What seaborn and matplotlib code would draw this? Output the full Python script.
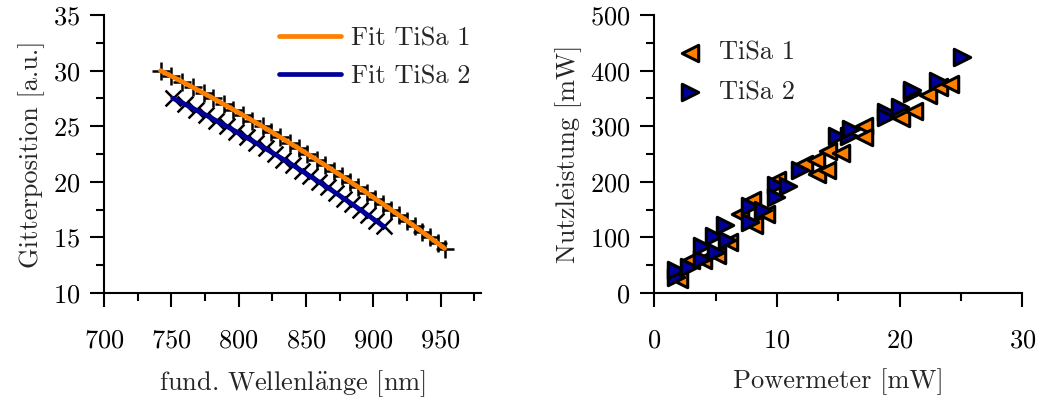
import numpy as np
import pandas as pd
import matplotlib
matplotlib.use("Agg")
import matplotlib.pyplot as plt
from matplotlib.ticker import MultipleLocator
import seaborn as sns

sns.set_style("ticks")
plt.rcParams["font.family"] = ["cmr10", "DejaVu Serif"]
plt.rcParams["mathtext.fontset"] = "cm"
plt.rcParams["axes.formatter.use_mathtext"] = True
plt.rcParams["axes.unicode_minus"] = False
plt.rcParams["font.size"] = 19

ORANGE = "#ff8000"
BLUE = "#000099"

# Gitterposition vs. Wellenlaenge
wl_tisa1 = [742, 750, 758, 766, 774, 781, 789, 796, 803, 810, 818, 824, 831,
            838, 845, 851, 858, 864, 871, 877, 883, 889, 895, 901, 907, 913,
            919, 925, 931, 936, 942, 948, 953]
pos_tisa1 = [30.0, 29.5, 29.0, 28.5, 28.0, 27.5, 27.0, 26.5, 26.0, 25.5, 25.0,
             24.5, 24.0, 23.5, 23.0, 22.5, 22.0, 21.5, 21.0, 20.5, 20.0, 19.5,
             19.0, 18.5, 18.0, 17.5, 17.0, 16.5, 16.0, 15.5, 15.0, 14.5, 14.0]
wl_tisa2 = [751, 760, 768, 776, 783, 791, 798, 806, 813, 820, 827, 833, 840,
            847, 853, 860, 866, 872, 878, 884, 890, 896, 902, 908]
pos_tisa2 = [27.5, 27.0, 26.5, 26.0, 25.5, 25.0, 24.5, 24.0, 23.5, 23.0, 22.5,
             22.0, 21.5, 21.0, 20.5, 20.0, 19.5, 19.0, 18.5, 18.0, 17.5, 17.0,
             16.5, 16.0]

# Nutzleistung vs. Powermeter
pm_tisa1 = [2.0, 3.0, 4.0, 5.1, 6.1, 7.0, 8.0, 8.1, 9.1, 10.0, 12.2, 13.2, 13.3,
            14.1, 14.2, 15.2, 17.1, 17.1, 20.1, 21.2, 22.3, 23.2, 24.1]
p_tisa1 = [26, 60, 60, 68, 92, 143, 168, 123, 143, 203, 233, 240, 214, 221, 255,
           251, 301, 281, 315, 328, 356, 371, 376]
pm_tisa2 = [1.8, 1.8, 2.8, 3.9, 3.9, 4.9, 5.0, 5.8, 5.9, 7.8, 7.8, 8.9, 9.9, 9.9,
            10.9, 11.9, 14.9, 15.9, 16.0, 18.9, 18.9, 20.0, 21.0, 21.0, 23.1, 25.1]
p_tisa2 = [29, 41, 47, 62, 84, 102, 73, 122, 95, 157, 128, 149, 195, 173, 193,
           222, 283, 283, 295, 326, 316, 335, 360, 366, 382, 425]

fig = plt.figure(figsize=(10.4, 4.07), dpi=100)
ax1 = fig.add_axes([0.100, 0.280, 0.3625, 0.683])
ax2 = fig.add_axes([0.629, 0.280, 0.354, 0.683])

# links: Messpunkte + Fit
sns.scatterplot(x=wl_tisa1, y=pos_tisa1, marker="+", color="black", s=170,
                linewidth=1.8, ax=ax1, zorder=1)
sns.scatterplot(x=wl_tisa2, y=pos_tisa2, marker="x", color="black", s=130,
                linewidth=1.8, ax=ax1, zorder=1)
sns.regplot(x=wl_tisa1, y=pos_tisa1, order=2, ci=None, scatter=False, ax=ax1,
            color=ORANGE, line_kws={"lw": 3.4}, label="Fit TiSa 1")
sns.regplot(x=wl_tisa2, y=pos_tisa2, order=2, ci=None, scatter=False, ax=ax1,
            color=BLUE, line_kws={"lw": 3.4}, label="Fit TiSa 2")

ax1.set_xlim(700, 980)
ax1.set_ylim(10, 35)
ax1.xaxis.set_major_locator(MultipleLocator(50))
ax1.xaxis.set_minor_locator(MultipleLocator(25))
ax1.yaxis.set_major_locator(MultipleLocator(5))
ax1.yaxis.set_minor_locator(MultipleLocator(2.5))
ax1.set_xlabel(r"fund. Wellenl$\ddot{\mathrm{a}}$nge [nm]", labelpad=11)
ax1.set_ylabel("Gitterposition [a.u.]", labelpad=6)
ax1.legend(loc="upper right", bbox_to_anchor=(1.015, 1.015), frameon=False,
           handlelength=2.35, labelspacing=0.55, borderaxespad=0.2,
           handletextpad=0.4)

# rechts: Leistung
sns.scatterplot(x=pm_tisa1, y=p_tisa1, marker="<", color=ORANGE, edgecolor="black",
                s=140, linewidth=2.2, ax=ax2, label="TiSa 1")
sns.scatterplot(x=pm_tisa2, y=p_tisa2, marker=">", color=BLUE, edgecolor="black",
                s=140, linewidth=2.2, ax=ax2, label="TiSa 2")

ax2.set_xlim(0, 30)
ax2.set_ylim(0, 500)
ax2.xaxis.set_major_locator(MultipleLocator(10))
ax2.xaxis.set_minor_locator(MultipleLocator(5))
ax2.yaxis.set_major_locator(MultipleLocator(100))
ax2.yaxis.set_minor_locator(MultipleLocator(50))
ax2.set_xlabel("Powermeter [mW]", labelpad=11)
ax2.set_ylabel("Nutzleistung [mW]", labelpad=6)
ax2.legend(loc="upper left", bbox_to_anchor=(0.0, 0.99), frameon=False,
           handlelength=1.0, handletextpad=0.57, labelspacing=0.6,
           borderaxespad=0.47)

for ax in (ax1, ax2):
    sns.despine(ax=ax)
    for sp in ("left", "bottom"):
        ax.spines[sp].set_linewidth(1.5)
        ax.spines[sp].set_color("black")
    ax.tick_params(which="major", direction="out", length=10, width=1.5,
                   colors="black", labelsize=19, pad=7)
    ax.tick_params(which="minor", direction="out", length=6, width=1.5,
                   colors="black")
    ax.tick_params(axis="x", which="major", pad=16)
    ax.xaxis.label.set_size(19)
    ax.yaxis.label.set_size(19)

fig.savefig("out.png", dpi=100)
